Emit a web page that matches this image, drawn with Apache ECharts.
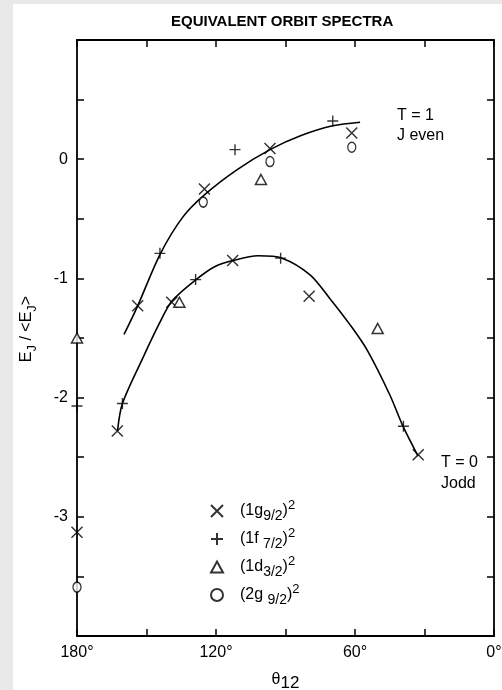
<!DOCTYPE html>
<html>
<head>
<meta charset="utf-8">
<script src="https://cdn.jsdelivr.net/npm/echarts@6/dist/echarts.min.js"></script>
<style>
  html, body { margin: 0; padding: 0; width: 502px; height: 690px; overflow: hidden; background: #fff; }
  #chart { position: absolute; left: 0; top: 0; width: 502px; height: 690px; }
</style>
</head>
<body>
<div id="chart"></div>
<script>
// ---- data (theta12 in degrees, E_J/<E_J>) ----
const xTickLabels = [180, 120, 60, 0];
const yTickLabels = [0, -1, -2, -3];

// (1g9/2)^2  — crosses
const g92Points = [
  [153.8, -1.23], [125.0, -0.25], [96.7, 0.09], [61.4, 0.22],
  [162.6, -2.28], [139.1, -1.20], [112.8, -0.85], [79.8, -1.15], [32.7, -2.48],
  [180, -3.13]
];
// (1f7/2)^2  — plus signs
const f72Points = [
  [144.2, -0.79], [111.8, 0.08], [69.6, 0.32],
  [160.4, -2.05], [128.8, -1.01], [92.1, -0.83], [39.1, -2.24],
  [180, -2.07]
];
// (1d3/2)^2  — triangles
const d32Points = [
  [100.6, -0.17], [135.8, -1.20], [50.2, -1.42], [180, -1.50]
];
// (2g9/2)^2  — circles
const g92bPoints = [
  [125.5, -0.36], [96.7, -0.02], [61.4, 0.10], [180, -3.59]
];
// fitted curves
const curveT1 = [
  [159.7, -1.47], [153.8, -1.23], [144.2, -0.80], [134.5, -0.49], [125.0, -0.30],
  [111.0, -0.09], [96.7, 0.08], [83.0, 0.20], [69.6, 0.28], [57.8, 0.31]
];
const curveT0 = [
  [162.5, -2.28], [160.4, -2.05], [151.4, -1.66], [144.5, -1.38], [139.0, -1.19],
  [128.6, -1.01], [120.4, -0.90], [112.7, -0.85], [101.9, -0.81], [91.5, -0.83],
  [79.4, -0.97], [70.8, -1.17], [62.1, -1.39], [54.8, -1.60], [44.9, -1.98],
  [39.3, -2.24], [32.8, -2.49]
];

const FONT = "'Liberation Sans',Arial,Helvetica,sans-serif";

const legendNames = ['g92', 'f72', 'd32', 'g92b'];
const legendText = {
  g92: '{sp| }{n|(1g}{s|9/2}{n|)}{p|2}',
  f72: '{sp| }{n|(1f }{s|7/2}{n|)}{p|2}',
  d32: '{sp| }{n|(1d}{s|3/2}{n|)}{p|2}',
  g92b: '{sp| }{n|(2g }{s|9/2}{n|)}{p|2}'
};

const richBase = {
  sp: { width: 12, fontSize: 16, lineHeight: 24 },
  n: { fontSize: 16, lineHeight: 24, fontFamily: FONT, color: '#000' },
  s: { fontSize: 14, lineHeight: 14, verticalAlign: 'bottom', fontFamily: FONT, color: '#000' },
  p: { fontSize: 13, lineHeight: 13, verticalAlign: 'top', fontFamily: FONT, color: '#000' }
};

const crossPath = 'path://M0,0L10,10M10,0L0,10';
const plusPath = 'path://M5,0L5,10M0,5L10,5';
const triPath = 'path://M5,0L10,9L0,9Z';
const ovalPath = 'path://M5,0A5,5,0,1,1,5,10A5,5,0,1,1,5,0Z';

const chart = echarts.init(document.getElementById('chart'), null, { renderer: 'canvas', width: 502, height: 690 });

const tickStyle = { show: true, inside: true, length: 7, lineStyle: { color: '#000', width: 1.5 } };
const lineStyleAxis = { show: true, onZero: false, lineStyle: { color: '#000', width: 1.8 } };

chart.setOption({
  animation: false,
  title: {
    text: 'EQUIVALENT ORBIT SPECTRA',
    left: 166, top: 9,
    textStyle: { fontFamily: FONT, fontSize: 15, fontWeight: 'bold', color: '#000' }
  },
  grid: { left: 77, top: 40, right: 8, bottom: 54, containLabel: false, outerBoundsMode: 'none' },
  legend: {
    data: legendNames,
    orient: 'vertical',
    left: 205, top: 494,
    itemWidth: 12, itemHeight: 12, itemGap: 4,
    formatter: function (name) { return legendText[name]; },
    textStyle: { rich: richBase, fontFamily: FONT, fontSize: 16, color: '#000' },
    selectedMode: false
  },
  xAxis: [{
    type: 'value', inverse: true, min: 0, max: 180, interval: 30,
    axisLine: lineStyleAxis, axisTick: tickStyle, splitLine: { show: false },
    axisLabel: {
      margin: 9, fontFamily: FONT, fontSize: 16, color: '#000',
      formatter: function (v) { return xTickLabels.indexOf(v) >= 0 ? v + '°' : ''; }
    },
    name: '{t|θ}{s|12}', nameLocation: 'middle', nameGap: 32,
    nameTextStyle: { rich: {
      t: { fontFamily: FONT, fontSize: 16, lineHeight: 24, color: '#000' },
      s: { fontFamily: FONT, fontSize: 17, lineHeight: 17, verticalAlign: 'bottom', color: '#000' }
    } }
  }, {
    type: 'value', inverse: true, min: 0, max: 180, interval: 30, position: 'top',
    axisLine: lineStyleAxis, axisTick: tickStyle, axisLabel: { show: false }, splitLine: { show: false }
  }],
  yAxis: [{
    type: 'value', min: -4, max: 1, interval: 0.5,
    axisLine: lineStyleAxis, axisTick: tickStyle, splitLine: { show: false },
    axisLabel: {
      margin: 9, fontFamily: FONT, fontSize: 16, color: '#000',
      formatter: function (v) { return yTickLabels.indexOf(v) >= 0 ? String(v) : ''; }
    },
    name: '{n|E}{s|J}{n| / <E}{s|J}{n|>}', nameLocation: 'middle', nameGap: 38, nameRotate: 90,
    nameTextStyle: { padding: [0, 0, 0, 18], rich: {
      n: { fontFamily: FONT, fontSize: 16, lineHeight: 24, color: '#000' },
      s: { fontFamily: FONT, fontSize: 13, lineHeight: 13, verticalAlign: 'bottom', color: '#000' }
    } }
  }, {
    type: 'value', min: -4, max: 1, interval: 0.5, position: 'right',
    axisLine: lineStyleAxis, axisTick: tickStyle, axisLabel: { show: false }, splitLine: { show: false }
  }],
  graphic: [
    { type: 'rect', left: 0, top: 0, z: -10, silent: true, shape: { width: 13, height: 690 }, style: { fill: '#e9e9e9' } },
    { type: 'rect', left: 0, top: 0, z: -10, silent: true, shape: { width: 502, height: 4 }, style: { fill: '#e9e9e9' } },
    { type: 'text', left: 397, top: 108, style: { text: 'T = 1', font: '16px ' + FONT, fill: '#000' } },
    { type: 'text', left: 397, top: 128, style: { text: 'J even', font: '16px ' + FONT, fill: '#000' } },
    { type: 'text', left: 441, top: 455, style: { text: 'T = 0', font: '16px ' + FONT, fill: '#000' } },
    { type: 'text', left: 441, top: 476, style: { text: 'Jodd', font: '16px ' + FONT, fill: '#000' } }
  ],
  series: [
    { name: 'curveT1', type: 'line', data: curveT1, smooth: 0.3, showSymbol: false, symbol: 'none',
      lineStyle: { color: '#000', width: 1.6 }, silent: true, z: 1 },
    { name: 'curveT0', type: 'line', data: curveT0, smooth: 0.3, showSymbol: false, symbol: 'none',
      lineStyle: { color: '#000', width: 1.6 }, silent: true, z: 1 },
    { name: 'g92', type: 'scatter', data: g92Points, symbol: crossPath, symbolSize: 11, clip: false,
      itemStyle: { color: 'rgba(0,0,0,0)', borderColor: '#000', borderWidth: 1.5 }, z: 3 },
    { name: 'f72', type: 'scatter', data: f72Points, symbol: plusPath, symbolSize: 11, clip: false,
      itemStyle: { color: 'rgba(0,0,0,0)', borderColor: '#000', borderWidth: 1.4 }, z: 3 },
    { name: 'd32', type: 'scatter', data: d32Points, symbol: triPath, symbolSize: [11, 10], clip: false,
      itemStyle: { color: '#fff', borderColor: '#000', borderWidth: 1.5 }, z: 3 },
    { name: 'g92b', type: 'scatter', data: g92bPoints, symbol: ovalPath, symbolSize: [8, 10], clip: false,
      itemStyle: { color: '#fff', borderColor: '#000', borderWidth: 1.4 }, z: 3 }
  ]
});
</script>
</body>
</html>
